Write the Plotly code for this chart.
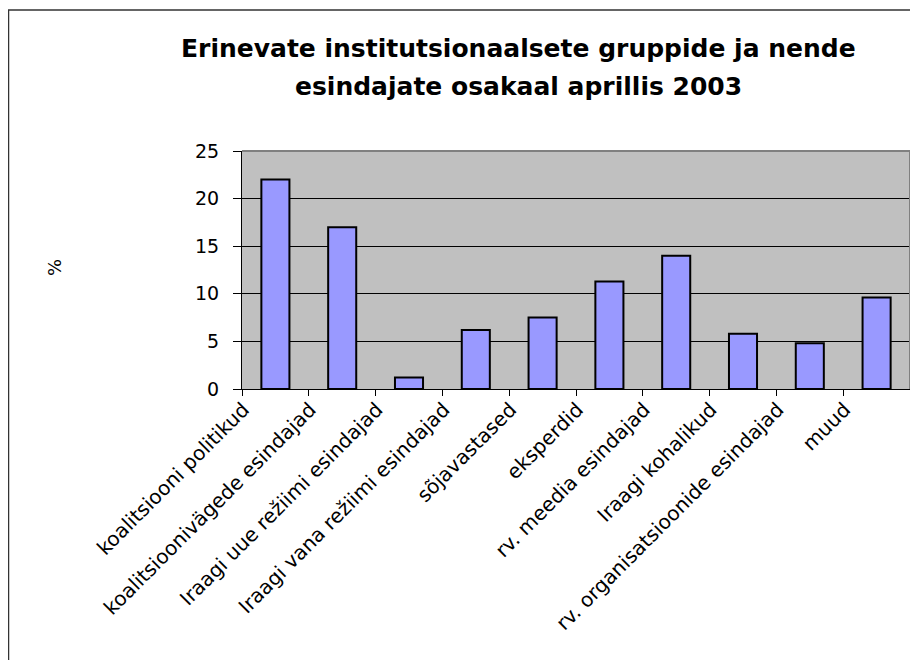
import plotly.graph_objects as go

categories = [
    "koalitsiooni politikud",
    "koalitsioonivägede esindajad",
    "Iraagi uue režiimi esindajad",
    "Iraagi vana režiimi esindajad",
    "sõjavastased",
    "eksperdid",
    "rv. meedia esindajad",
    "Iraagi kohalikud",
    "rv. organisatsioonide esindajad",
    "muud",
]
values = [22.0, 17.0, 1.2, 6.2, 7.5, 11.3, 14.0, 5.8, 4.8, 9.6]
y_ticks = [0, 5, 10, 15, 20, 25]

title_lines = [
    "Erinevate institutsionaalsete gruppide ja nende",
    "esindajate osakaal aprillis 2003",
]

# page body adds an 8px offset; target coordinates below are screen pixels
OFF = 8
W, H = 918, 660
PX0, PX1 = 242, 910   # plot area left/right on screen
PY0, PY1 = 151, 389   # plot area top/bottom on screen
L = PX0 - OFF
T = PY0 - OFF
R = W - (PX1 - OFF)
B = H - (PY1 - OFF)
pw = PX1 - PX0
ph = PY1 - PY0


def fx(px):
    return (px - PX0) / pw


def fy(py):
    return (PY1 - py) / ph


font_family = "DejaVu Sans, Verdana, sans-serif"

fig = go.Figure(
    go.Bar(
        x=categories,
        y=values,
        marker=dict(color="#9999FF", line=dict(color="black", width=2)),
    )
)

fig.update_layout(
    width=W,
    height=H,
    margin=dict(l=L, r=R, t=T, b=B, autoexpand=False),
    plot_bgcolor="#C0C0C0",
    paper_bgcolor="white",
    bargap=0.58,
    showlegend=False,
    font=dict(family=font_family, size=18, color="black"),
)

fig.update_xaxes(
    showline=True,
    linecolor="black",
    linewidth=1,
    ticks="outside",
    tickson="boundaries",
    ticklen=6,
    tickcolor="black",
    tickangle=-45,
    ticklabelshift=-32,
    tickfont=dict(family=font_family, size=20, color="black"),
    showgrid=False,
)

fig.update_yaxes(
    range=[0, 25],
    tickvals=y_ticks,
    showline=True,
    linecolor="black",
    linewidth=1,
    ticks="outside",
    ticklen=8,
    tickcolor="black",
    ticklabelstandoff=10,
    showgrid=True,
    gridcolor="black",
    gridwidth=1,
    zeroline=False,
    tickfont=dict(family=font_family, size=19, color="black"),
)

shapes = [
    dict(type="line", xref="paper", yref="paper", x0=0, x1=1, y0=1, y1=1,
         line=dict(color="#808080", width=2)),
    dict(type="line", xref="paper", yref="paper", x0=1, x1=1, y0=0, y1=1,
         line=dict(color="#808080", width=2)),
    dict(type="rect", xref="paper", yref="paper",
         x0=fx(8.5), x1=fx(930), y0=fy(10), y1=fy(680),
         line=dict(color="#333333", width=1.5), layer="below"),
]
fig.update_layout(shapes=shapes)

for line, ypix in zip(title_lines, [48, 86]):
    fig.add_annotation(
        x=fx(518), y=fy(ypix), xref="paper", yref="paper",
        text="<b>" + line + "</b>",
        showarrow=False, xanchor="center", yanchor="middle",
        font=dict(family=font_family, size=25, color="black"),
    )
fig.add_annotation(
    x=fx(54), y=fy(268), xref="paper", yref="paper",
    text="%", textangle=-90,
    showarrow=False, xanchor="center", yanchor="middle",
    font=dict(family=font_family, size=18, color="black"),
)

fig.write_html("out.html")
